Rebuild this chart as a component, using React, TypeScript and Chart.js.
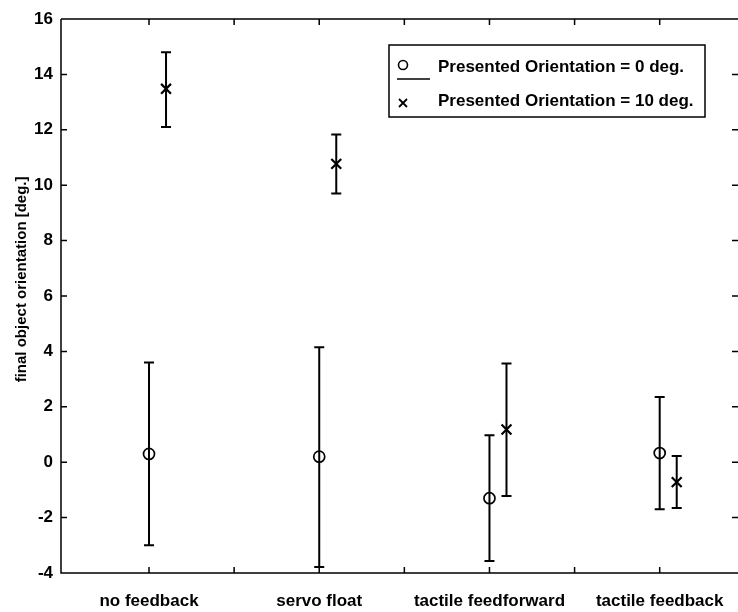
import { useEffect, useRef } from 'react';
import { Chart, registerables } from 'chart.js';

Chart.register(...registerables);

// Conditions on the horizontal axis
const categories = ['no feedback', 'servo float', 'tactile feedforward', 'tactile feedback'];

// Two presented orientations, plotted side by side at each condition
const seriesLabels = ['Presented Orientation = 0 deg.', 'Presented Orientation = 10 deg.'];
const seriesOffsets = [0, 0.1];

// Presented orientation 0 deg.: mean with lower/upper error-bar ends
const mean0 = [0.3, 0.2, -1.3, 0.33];
const low0 = [-3.0, -3.78, -3.57, -1.7];
const high0 = [3.6, 4.15, 0.97, 2.35];

// Presented orientation 10 deg.
const mean10 = [13.48, 10.77, 1.18, -0.72];
const low10 = [12.1, 9.7, -1.22, -1.65];
const high10 = [14.8, 11.83, 3.56, 0.22];

const yTicks = [-4, -2, 0, 2, 4, 6, 8, 10, 12, 14, 16];
const xTicks = [1, 1.5, 2, 2.5, 3, 3.5, 4];
const yTitle = 'final object orientation [deg.]';

const FONT = "'Liberation Sans', Arial, Helvetica, sans-serif";

// Vertical error bars with caps, drawn under the markers
const errorBars = {
  id: 'errorBars',
  beforeDatasetsDraw(chart: any) {
    const { ctx, scales } = chart;
    const xs = scales.x;
    const ys = scales.y;
    ctx.save();
    ctx.strokeStyle = '#000';
    ctx.lineWidth = 2;
    chart.data.datasets.forEach((ds: any) => {
      ds.data.forEach((pt: any, i: number) => {
        const px = xs.getPixelForValue(pt.x);
        const yl = ys.getPixelForValue(ds.low[i]);
        const yh = ys.getPixelForValue(ds.high[i]);
        ctx.beginPath();
        ctx.moveTo(px, yl);
        ctx.lineTo(px, yh);
        ctx.moveTo(px - 5, yl);
        ctx.lineTo(px + 5, yl);
        ctx.moveTo(px - 5, yh);
        ctx.lineTo(px + 5, yh);
        ctx.stroke();
      });
    });
    ctx.restore();
  },
};

// Box-style axes with inward tick marks, plus the vertical axis title
const axesFrame = {
  id: 'axesFrame',
  afterDraw(chart: any) {
    const { ctx, chartArea, scales } = chart;
    const { left, right, top, bottom } = chartArea;
    const tl = 6;
    ctx.save();
    ctx.strokeStyle = '#000';
    ctx.lineWidth = 1.5;
    ctx.beginPath();
    ctx.moveTo(left, top);
    ctx.lineTo(right, top);
    ctx.moveTo(left, top);
    ctx.lineTo(left, bottom);
    ctx.lineTo(right, bottom);
    yTicks.forEach((v) => {
      const py = scales.y.getPixelForValue(v);
      ctx.moveTo(left, py);
      ctx.lineTo(left + tl, py);
      ctx.moveTo(right - tl, py);
      ctx.lineTo(right, py);
    });
    xTicks.forEach((v) => {
      const px = scales.x.getPixelForValue(v);
      ctx.moveTo(px, bottom);
      ctx.lineTo(px, bottom - tl);
      ctx.moveTo(px, top);
      ctx.lineTo(px, top + tl);
    });
    ctx.stroke();

    ctx.translate(22, scales.y.getPixelForValue(6.6));
    ctx.rotate(-Math.PI / 2);
    ctx.fillStyle = '#000';
    ctx.font = `bold 15px ${FONT}`;
    ctx.textAlign = 'center';
    ctx.textBaseline = 'middle';
    ctx.fillText(yTitle, 0, 0);
    ctx.restore();
  },
};

// Boxed legend in the upper right of the plot
const boxLegend = {
  id: 'boxLegend',
  afterDraw(chart: any) {
    const { ctx, chartArea } = chart;
    const bx = chartArea.right - 349;
    const by = chartArea.top + 26;
    const bw = 316;
    const bh = 72;
    ctx.save();
    ctx.fillStyle = '#fff';
    ctx.fillRect(bx, by, bw, bh);
    ctx.strokeStyle = '#000';
    ctx.lineWidth = 1.5;
    ctx.strokeRect(bx, by, bw, bh);

    const mx = bx + 14;
    // circle marker entry
    ctx.lineWidth = 1.6;
    ctx.beginPath();
    ctx.arc(mx, by + 20, 4.5, 0, Math.PI * 2);
    ctx.stroke();
    // line sample
    ctx.beginPath();
    ctx.moveTo(bx + 8, by + 34);
    ctx.lineTo(bx + 41, by + 34);
    ctx.stroke();
    // cross marker entry
    ctx.lineWidth = 1.8;
    ctx.beginPath();
    ctx.moveTo(mx - 4, by + 54);
    ctx.lineTo(mx + 4, by + 62);
    ctx.moveTo(mx + 4, by + 54);
    ctx.lineTo(mx - 4, by + 62);
    ctx.stroke();

    ctx.fillStyle = '#000';
    ctx.font = `bold 17px ${FONT}`;
    ctx.textBaseline = 'middle';
    ctx.textAlign = 'left';
    const ds = chart.data.datasets;
    ctx.fillText(ds[0].label, bx + 49, by + 22);
    ctx.fillText(ds[1].label, bx + 49, by + 56);
    ctx.restore();
  },
};

export default function App() {
  const canvasRef = useRef<HTMLCanvasElement | null>(null);

  useEffect(() => {
    if (!canvasRef.current) return;
    const chart = new Chart(canvasRef.current, {
      type: 'scatter',
      data: {
        datasets: [
          {
            label: seriesLabels[0],
            data: mean0.map((y, i) => ({ x: i + 1 + seriesOffsets[0], y })),
            low: low0,
            high: high0,
            pointStyle: 'circle',
            pointRadius: 5.5,
            borderColor: '#000',
            backgroundColor: 'rgba(0,0,0,0)',
            borderWidth: 1.7,
            showLine: false,
          } as any,
          {
            label: seriesLabels[1],
            data: mean10.map((y, i) => ({ x: i + 1 + seriesOffsets[1], y })),
            low: low10,
            high: high10,
            pointStyle: 'crossRot',
            pointRadius: 7,
            borderColor: '#000',
            backgroundColor: '#000',
            borderWidth: 2.2,
            showLine: false,
          } as any,
        ],
      },
      options: {
        animation: false,
        responsive: false,
        events: [],
        layout: { autoPadding: false, padding: { top: 19, left: 0, right: 0, bottom: 0 } },
        plugins: {
          legend: { display: false },
          tooltip: { enabled: false },
        },
        scales: {
          x: {
            type: 'linear',
            min: 0.483,
            max: 4.46,
            afterBuildTicks: (s: any) => {
              s.ticks = xTicks.map((v) => ({ value: v }));
            },
            afterFit: (s: any) => {
              s.height = 39;
              s.paddingLeft = 0;
              s.paddingRight = 0;
            },
            grid: { display: false, drawTicks: false },
            border: { display: false },
            ticks: {
              autoSkip: false,
              maxRotation: 0,
              padding: 18,
              color: '#000',
              font: { family: FONT, size: 17, weight: 'bold' },
              callback: (v: any) => (Number.isInteger(v) ? categories[v - 1] : ''),
            },
          },
          y: {
            type: 'linear',
            min: -4,
            max: 16,
            afterBuildTicks: (s: any) => {
              s.ticks = yTicks.map((v) => ({ value: v }));
            },
            afterFit: (s: any) => {
              s.width = 61;
              s.paddingTop = 0;
              s.paddingBottom = 0;
            },
            grid: { display: false, drawTicks: false },
            border: { display: false },
            ticks: {
              padding: 8,
              color: '#000',
              font: { family: FONT, size: 17, weight: 'bold' },
            },
          },
        },
      },
      plugins: [errorBars, axesFrame, boxLegend],
    } as any);
    return () => chart.destroy();
  }, []);

  return (
    <div style={{ position: 'fixed', left: 0, top: 0, width: 738, height: 612, background: '#fff' }}>
      <canvas ref={canvasRef} width={738} height={612} style={{ display: 'block' }} />
    </div>
  );
}
